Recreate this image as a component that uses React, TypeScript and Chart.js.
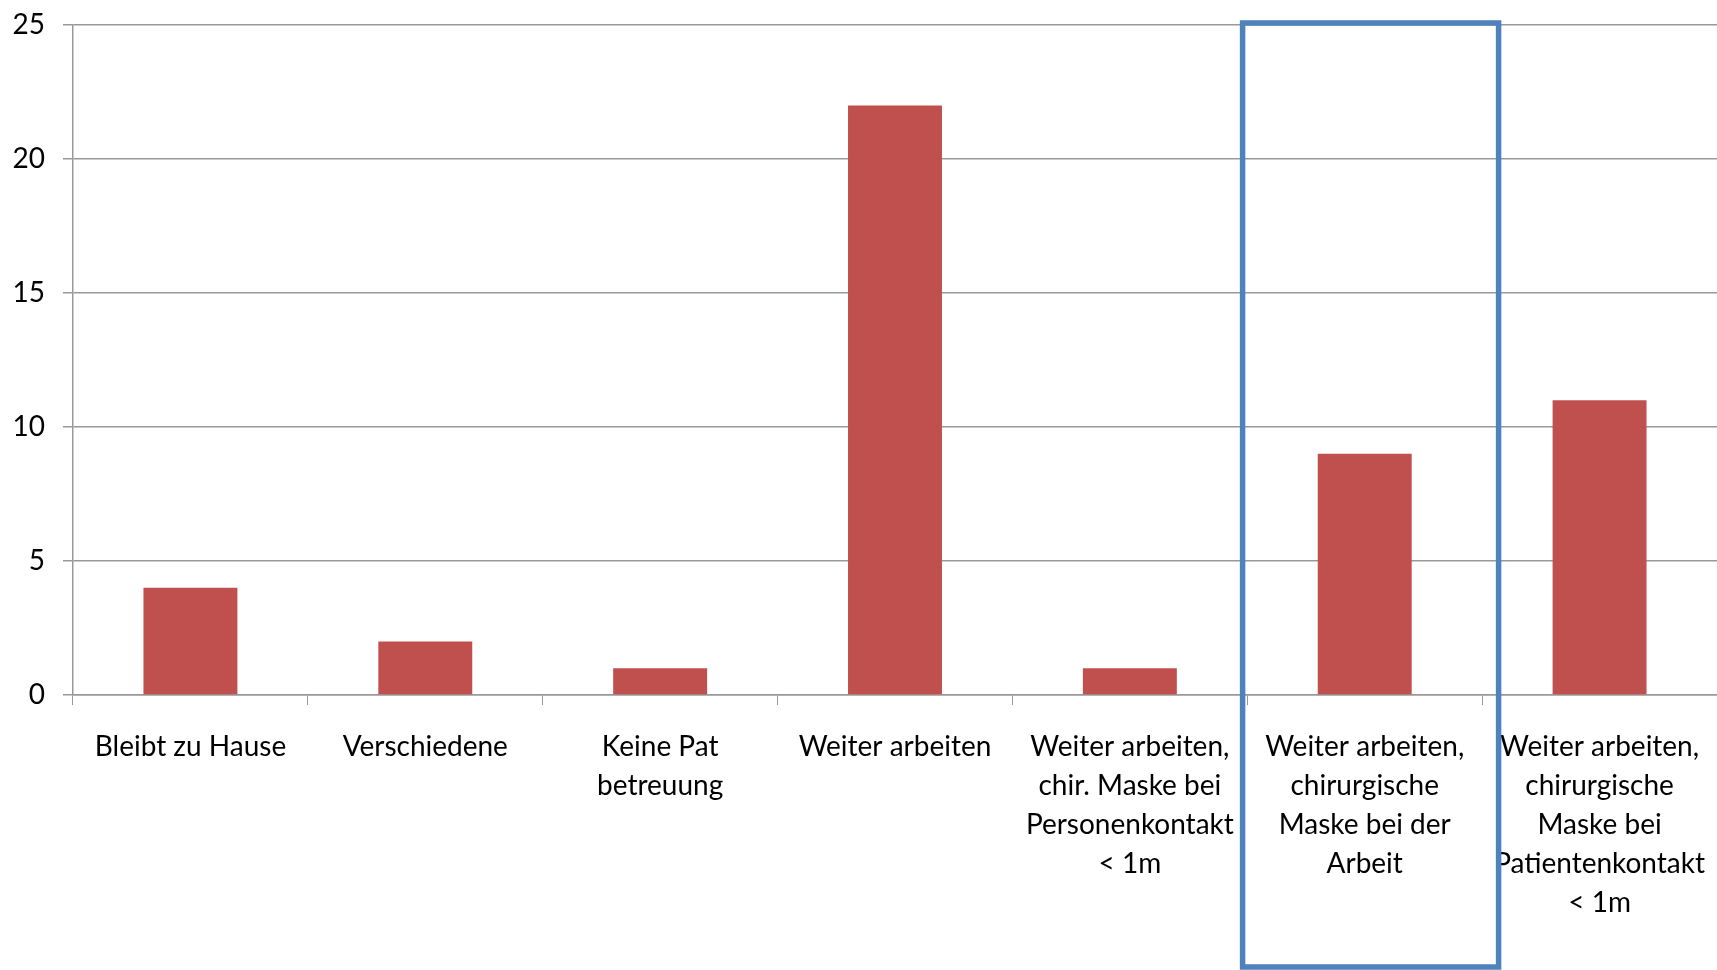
import React, { useEffect, useRef } from "react";
import { Chart, registerables } from "chart.js";

Chart.register(...registerables);

const categories: (string | string[])[] = [
  "Bleibt zu Hause",
  "Verschiedene",
  ["Keine Pat", "betreuung"],
  "Weiter arbeiten",
  ["Weiter arbeiten,", "chir. Maske bei", "Personenkontakt", "< 1m"],
  ["Weiter arbeiten,", "chirurgische", "Maske bei der", "Arbeit"],
  ["Weiter arbeiten,", "chirurgische", "Maske bei", "Patientenkontakt", "< 1m"],
];
const values: number[] = [4, 2, 1, 22, 1, 9, 11];
const yTicks: number[] = [0, 5, 10, 15, 20, 25];
const highlightIndex = 5;

const FONT = "Lato";
const BAR = "#C0504D";
const GRID = "#999999";
const BOX = "#4F81BD";

const highlightPlugin = {
  id: "highlightBox",
  afterDraw(chart: any) {
    const x = chart.scales.x;
    const y = chart.scales.y;
    const ctx = chart.ctx;
    const w = x.getPixelForValue(1) - x.getPixelForValue(0);
    const c = x.getPixelForValue(highlightIndex);
    const left = c - 0.52 * w;
    const right = c + 0.57 * w;
    const top = y.getPixelForValue(yTicks[yTicks.length - 1]) - 2;
    const bottom = chart.height - 3;
    ctx.save();
    ctx.strokeStyle = BOX;
    ctx.lineWidth = 5.5;
    ctx.strokeRect(left, top, right - left, bottom - top);
    ctx.restore();
  },
};

export default function App() {
  const ref = useRef<HTMLCanvasElement | null>(null);
  useEffect(() => {
    if (!ref.current) return;
    const chart = new Chart(ref.current, {
      type: "bar",
      data: {
        labels: categories,
        datasets: [
          {
            data: values,
            backgroundColor: BAR,
            barPercentage: 0.4,
            categoryPercentage: 1,
          },
        ],
      },
      options: {
        animation: false,
        responsive: false,
        layout: { padding: { left: 0, right: 0, top: 25, bottom: 0 } },
        plugins: { legend: { display: false }, tooltip: { enabled: false } },
        scales: {
          x: {
            grid: {
              drawOnChartArea: false,
              drawTicks: true,
              tickLength: 10,
              color: GRID,
              offset: true,
            },
            border: { color: GRID, width: 1.5 },
            ticks: {
              color: "#000000",
              font: { family: FONT, size: 28, lineHeight: 1.4 },
              padding: 22,
              maxRotation: 0,
              minRotation: 0,
              autoSkip: false,
            },
            afterFit(scale: any) {
              scale.height = 275;
              scale.paddingLeft = 0;
              scale.paddingRight = 0;
            },
          },
          y: {
            min: 0,
            max: 25,
            afterBuildTicks(scale: any) {
              scale.ticks = yTicks.map((v) => ({ value: v }));
            },
            grid: { color: GRID, lineWidth: 1.5, tickLength: 10 },
            border: { color: GRID, width: 1.5 },
            ticks: {
              color: "#000000",
              font: { family: FONT, size: 28 },
              padding: 18,
            },
            afterFit(scale: any) {
              scale.width = 73;
              scale.paddingTop = 0;
              scale.paddingBottom = 0;
            },
          },
        },
      },
      plugins: [highlightPlugin],
    });
    return () => chart.destroy();
  }, []);
  return (
    <div style={{ position: "fixed", left: 0, top: 0, width: 1717, height: 970, background: "#fff" }}>
      <canvas ref={ref} width={1717} height={970} style={{ width: 1717, height: 970, display: "block" }} />
    </div>
  );
}
